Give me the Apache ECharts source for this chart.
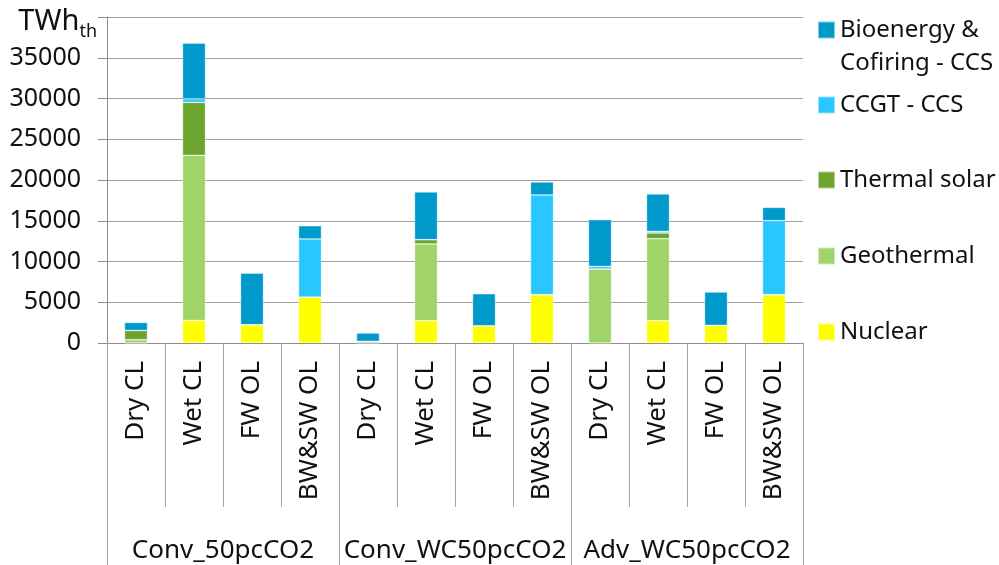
<!DOCTYPE html>
<html><head><meta charset="utf-8">
<script src="https://cdn.jsdelivr.net/npm/echarts@6/dist/echarts.min.js"></script>
<style>html,body{margin:0;padding:0;background:#fff}#c{width:999px;height:565px}</style>
</head><body><div id="c"></div>
<script>
const categories = ['Dry CL','Wet CL','FW OL','BW&SW OL','Dry CL','Wet CL','FW OL','BW&SW OL','Dry CL','Wet CL','FW OL','BW&SW OL'];
const groups = ['Conv_50pcCO2','Conv_WC50pcCO2','Adv_WC50pcCO2'];
const nuclear    = [0, 2770, 2245, 5640, 0, 2740, 2120, 5930, 0, 2740, 2160, 5930];
const geothermal = [400, 20250, 0, 0, 200, 9410, 0, 0, 9080, 10060, 0, 0];
const thermalSolar = [1140, 6500, 0, 0, 0, 530, 0, 0, 0, 700, 0, 0];
const ccgtCcs    = [0, 450, 0, 7120, 0, 0, 0, 12230, 320, 200, 0, 9080];
const bioenergy  = [980, 6830, 6340, 1630, 1030, 5850, 3930, 1600, 5730, 4590, 4100, 1630];
const seriesNames = ['Nuclear','Geothermal','Thermal solar','CCGT - CCS','Bioenergy & Cofiring - CCS'];
const seriesData = [nuclear, geothermal, thermalSolar, ccgtCcs, bioenergy];
const colors = ['#FFFF00','#A0D468','#6CA42E','#29C6FF','#0099CC'];
const yMax = 40000, yStep = 5000;

const FONT = 'Noto Sans';
const grid = {left:107, right:196, top:17, bottom:222};
const legendCenters = [332, 256, 180, 105, 30];

const legends = seriesNames.map((n, i) => {
  const isBio = i === 4;
  const lh = isBio ? 33 : 30;
  const base = {
    data: [n],
    orient:'vertical', left:817, padding:0, itemWidth:17, itemHeight:17, itemGap:0,
    icon:'rect',
    textStyle:{fontFamily:FONT, fontSize:24, color:'#111', lineHeight:lh},
    top: isBio ? legendCenters[i] - 49.5 : legendCenters[i] - 15
  };
  if (isBio) base.formatter = () => '\u00a0\nBioenergy &\nCofiring - CCS';
  return base;
});

const option = {
  animation:false,
  textStyle:{fontFamily:FONT},
  grid: grid,
  legend: legends,
  xAxis: [{
    type:'category', data:categories, gridIndex:0,
    axisLine:{show:true, lineStyle:{color:'#8c8c8c', width:1}},
    axisTick:{show:true, length:164, interval:0, lineStyle:{color:'#a6a6a6'}},
    axisLabel:{interval:0, rotate:90, fontSize:26, color:'#111', margin:18, fontFamily:FONT}
  },{
    type:'category', data:groups, gridIndex:0, position:'bottom', offset:164,
    axisLine:{show:false},
    axisTick:{show:true, length:58, interval:0, lineStyle:{color:'#a6a6a6'}},
    axisLabel:{interval:0, fontSize:26, color:'#111', margin:31, fontFamily:FONT}
  }],
  yAxis: {
    type:'value', min:0, max:yMax, interval:yStep,
    name:'{a|TWh}{b|th}', nameLocation:'end', nameGap:-5,
    nameTextStyle:{align:'right', verticalAlign:'middle', padding:[0,10,0,0],
      rich:{a:{fontSize:29, color:'#111', fontFamily:FONT}, b:{fontSize:18, color:'#111', fontFamily:FONT, padding:[20,0,0,0]}}},
    axisLine:{show:true, lineStyle:{color:'#8c8c8c'}},
    axisTick:{show:true, length:9, lineStyle:{color:'#8c8c8c'}},
    splitLine:{show:true, lineStyle:{color:'#a0a0a0', width:1}},
    axisLabel:{fontSize:25, color:'#111', margin:26, fontFamily:FONT,
      formatter: v => v === yMax ? '' : String(v)}
  },
  series: seriesNames.map((n, i) => ({
    name:n, type:'bar', stack:'total', barWidth:23, xAxisIndex:0,
    data: seriesData[i],
    itemStyle:{color:colors[i], borderColor:'rgba(255,255,255,0.5)', borderWidth:0.7}
  }))
};
const chart = echarts.init(document.getElementById('c'), null, {renderer:'canvas'});
chart.setOption(option);
</script>
</body></html>
